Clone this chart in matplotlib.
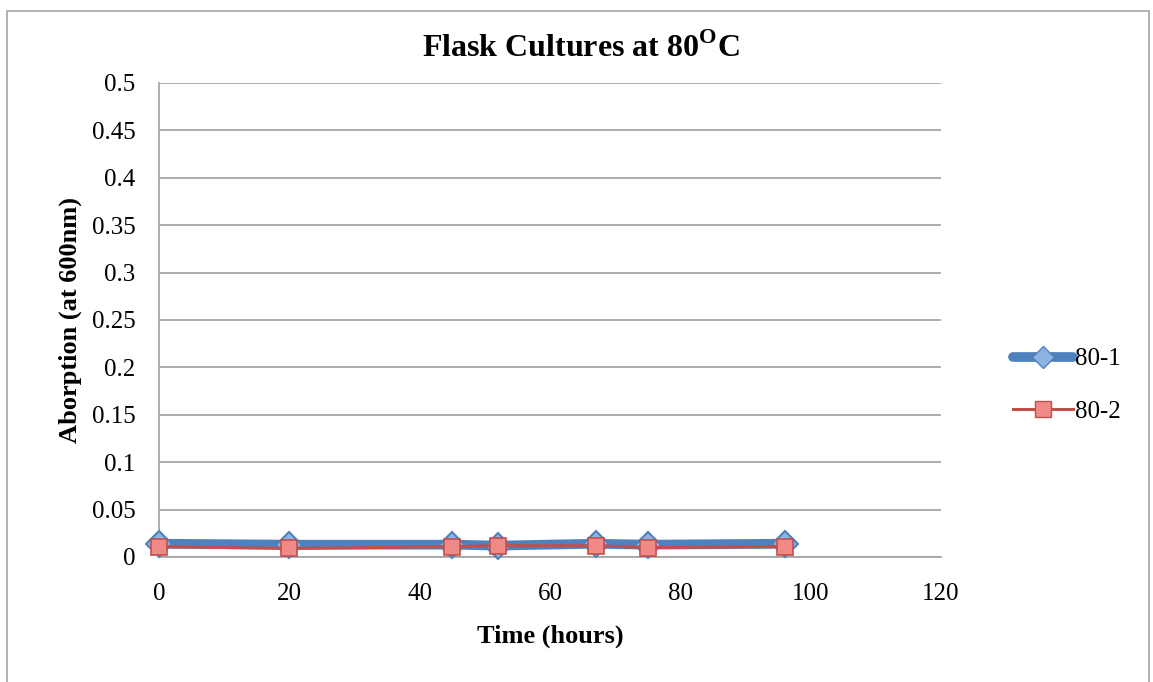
import matplotlib.pyplot as plt
from matplotlib.patches import Rectangle
from matplotlib.lines import Line2D

plt.rcParams['font.family'] = ['Liberation Serif', 'DejaVu Serif']
plt.rcParams['mathtext.fontset'] = 'custom'
plt.rcParams['mathtext.bf'] = 'Liberation Serif:bold'
plt.rcParams['mathtext.rm'] = 'Liberation Serif'

hours = [0, 20, 45, 52, 67, 75, 96]
flask_1 = [0.014, 0.013, 0.013, 0.012, 0.014, 0.013, 0.014]
flask_2 = [0.011, 0.009, 0.011, 0.012, 0.012, 0.010, 0.011]
labels = ['80-1', '80-2']

fig = plt.figure(figsize=(11.53, 6.82), dpi=100)
ax = fig.add_axes([0.1379, 0.1833, 0.6782, 0.695])

# outer chart frame
fig.patches.append(Rectangle((7 / 1153, -0.01), 1142 / 1153, 0.9935, transform=fig.transFigure,
                             fill=False, edgecolor='#a6a6a6', linewidth=1.2))

blue = '#4f81bd'
red = '#c0504d'
ax.plot(hours, flask_1, color=blue, linewidth=7, solid_capstyle='round', marker='D', markersize=13,
        markerfacecolor='#8db3e2', markeredgecolor=blue, markeredgewidth=1.5, zorder=3, clip_on=False)
ax.plot(hours, flask_2, color=red, linewidth=2.2, marker='s', markersize=12,
        markerfacecolor='#f08a86', markeredgecolor=red, markeredgewidth=1.2, zorder=4, clip_on=False)

ax.set_xlim(0, 120)
ax.set_ylim(0, 0.5)
ax.set_xticks(range(0, 121, 20))
ax.set_yticks([i * 0.05 for i in range(11)])
ax.set_yticklabels(['0', '0.05', '0.1', '0.15', '0.2', '0.25', '0.3', '0.35', '0.4', '0.45', '0.5'])
ax.tick_params(length=0, labelsize=18)
ax.tick_params(axis='y', pad=17)
ax.tick_params(axis='x', pad=19)
ax.grid(axis='y', color='#a0a0a0', linewidth=1.2)
ax.set_axisbelow(True)
for s in ['top', 'right']:
    ax.spines[s].set_visible(False)
for s in ['left', 'bottom']:
    ax.spines[s].set_color('#a0a0a0')
    ax.spines[s].set_linewidth(1.2)

ax.set_xlabel('Time (hours)', fontsize=19, fontweight='bold', labelpad=14)
ax.set_ylabel('Aborption (at 600nm)', fontsize=19, fontweight='bold', labelpad=7)
fig.text(581 / 1153, 1 - 48 / 682, r'Flask Cultures at 80$^{\mathbf{O}}$C', fontsize=23,
         fontweight='bold', ha='center', va='center')

handles = [
    Line2D([], [], color=blue, linewidth=7, solid_capstyle='round', marker='D', markersize=11,
           markerfacecolor='#8db3e2', markeredgecolor=blue),
    Line2D([], [], color=red, linewidth=2.2, marker='s', markersize=11,
           markerfacecolor='#f08a86', markeredgecolor=red),
]
fig.legend(handles, labels, loc='center left', bbox_to_anchor=(0.859, 0.435), frameon=False,
           fontsize=18, handlelength=2.4, handletextpad=0.1, labelspacing=1.2)

fig.savefig('out.png', dpi=100)
